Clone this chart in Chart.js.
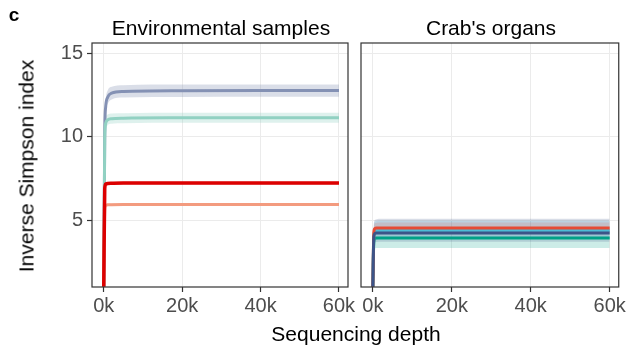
<!DOCTYPE html>
<html>
<head>
<meta charset="utf-8">
<script src="https://cdn.jsdelivr.net/npm/chart.js@4.4.0/dist/chart.umd.min.js"></script>
<style>
  body { margin: 0; background: #fff; }
  #wrap { position: relative; width: 628px; height: 346px; overflow: hidden; font-family: 'Liberation Sans', Arial, sans-serif; }
  canvas { position: absolute; top: 0; }
  .lbl { position: absolute; transform: translate(-50%, -50%); white-space: nowrap; line-height: 1; color: #000; }
</style>
</head>
<body>
<div id="wrap">
  <canvas id="envChart" width="360" height="346" style="left:0;width:360px;height:346px"></canvas>
  <canvas id="orgChart" width="278" height="346" style="left:350px;width:278px;height:346px"></canvas>
  <div class="lbl" style="left:14px;top:14px;font-size:19px;font-weight:bold">c</div>
  <div class="lbl" style="left:221px;top:27px;font-size:21px">Environmental samples</div>
  <div class="lbl" style="left:491px;top:27px;font-size:21px">Crab's organs</div>
  <div class="lbl" style="left:356px;top:333px;font-size:21px">Sequencing depth</div>
  <div class="lbl" style="left:26px;top:166px;font-size:21px;transform:translate(-50%,-50%) rotate(-90deg)">Inverse Simpson index</div>
</div>
<script>
// 시퀀싱 깊이 (x축)
const depth = [0, 250, 500, 1000, 2000, 5000, 20000, 40000, 60000];
const xTicks = [0, 20000, 40000, 60000];
const yTicks = [5, 10, 15];

// Environmental samples
const envBlue    = [1, 10.2, 11.8, 12.35, 12.6, 12.7, 12.74, 12.75, 12.75];
const envBlueLo  = [1, 9.7, 11.4, 11.95, 12.22, 12.33, 12.37, 12.38, 12.38];
const envBlueHi  = [1, 10.7, 12.2, 12.75, 12.98, 13.07, 13.11, 13.12, 13.12];
const envTeal    = [1, 9.9, 10.8, 11.0, 11.07, 11.1, 11.12, 11.13, 11.13];
const envTealLo  = [1, 9.5, 10.45, 10.68, 10.76, 10.8, 10.82, 10.83, 10.83];
const envTealHi  = [1, 10.3, 11.15, 11.32, 11.38, 11.4, 11.42, 11.43, 11.43];
const envRed     = [1, 6.9, 7.15, 7.19, 7.2, 7.21, 7.21, 7.21, 7.21];
const envRedLo   = [1, 6.8, 7.07, 7.11, 7.12, 7.13, 7.13, 7.13, 7.13];
const envRedHi   = [1, 7.0, 7.23, 7.27, 7.28, 7.29, 7.29, 7.29, 7.29];
const envSalmon   = [1, 5.7, 5.88, 5.91, 5.92, 5.93, 5.93, 5.93, 5.93];
const envSalmonLo = [1, 5.63, 5.81, 5.84, 5.85, 5.86, 5.86, 5.86, 5.86];
const envSalmonHi = [1, 5.77, 5.95, 5.98, 5.99, 6.0, 6.0, 6.0, 6.0];

// Crab's organs
const orgRed     = [1, 4.25, 4.48, 4.52, 4.53, 4.53, 4.53, 4.53, 4.53];
const orgRedLo   = [1, 3.95, 4.17, 4.2, 4.21, 4.21, 4.21, 4.21, 4.21];
const orgRedHi   = [1, 4.55, 4.8, 4.84, 4.85, 4.85, 4.85, 4.85, 4.85];
const orgCyan    = [1, 4.1, 4.32, 4.36, 4.37, 4.37, 4.37, 4.37, 4.37];
const orgCyanLo  = [1, 3.65, 3.82, 3.85, 3.86, 3.86, 3.86, 3.86, 3.86];
const orgCyanHi  = [1, 4.65, 4.9, 4.94, 4.95, 4.95, 4.95, 4.95, 4.95];
const orgNavy    = [1, 4.0, 4.19, 4.22, 4.23, 4.23, 4.23, 4.23, 4.23];
const orgNavyLo  = [1, 3.45, 3.66, 3.69, 3.7, 3.7, 3.7, 3.7, 3.7];
const orgNavyHi  = [1, 4.75, 5.0, 5.05, 5.07, 5.07, 5.07, 5.07, 5.07];
const orgGreen   = [1, 3.7, 3.89, 3.92, 3.93, 3.93, 3.93, 3.93, 3.93];
const orgGreenLo = [1, 3.15, 3.3, 3.32, 3.33, 3.33, 3.33, 3.33, 3.33];
const orgGreenHi = [1, 4.2, 4.41, 4.44, 4.45, 4.45, 4.45, 4.45, 4.45];

Chart.defaults.font.family = "'Liberation Sans', Arial, sans-serif";
Chart.defaults.animation = false;

function pts(vals) {
	return depth.map((d, i) => ({ x: d, y: vals[i] }));
}

// 리본 (hi -> lo 사이를 채운다)
function band(hi, lo, color) {
	return [
		{ data: pts(hi), borderWidth: 0, pointRadius: 0, backgroundColor: color, fill: '+1', cubicInterpolationMode: 'monotone' },
		{ data: pts(lo), borderWidth: 0, pointRadius: 0, backgroundColor: color, fill: false, cubicInterpolationMode: 'monotone' },
	];
}

function line(vals, color, w) {
	return { data: pts(vals), borderColor: color, borderWidth: w, pointRadius: 0, fill: false, cubicInterpolationMode: 'monotone', borderJoinStyle: 'round' };
}

// 패널 테두리
const frame = {
	id: 'frame',
	afterDraw(chart) {
		const a = chart.chartArea;
		const ctx = chart.ctx;
		ctx.save();
		ctx.strokeStyle = '#333333';
		ctx.lineWidth = 1.2;
		ctx.strokeRect(a.left, a.top, a.right - a.left, a.bottom - a.top);
		ctx.restore();
	},
};

function scales(showY, yWidth) {
	return {
		x: {
			type: 'linear',
			min: -3000,
			max: 62300,
			afterBuildTicks: (s) => { s.ticks = xTicks.map((v) => ({ value: v })); },
			afterFit: (s) => { s.height = 59; },
			grid: { color: '#EBEBEB', lineWidth: 1, tickLength: 5, tickColor: '#333333', tickWidth: 1.2 },
			border: { display: false },
			ticks: { color: '#4D4D4D', font: { size: 20 }, padding: 2, maxRotation: 0, callback: (v) => v / 1000 + 'k' },
		},
		y: {
			min: 0.99,
			max: 15.6,
			afterBuildTicks: (s) => { s.ticks = yTicks.map((v) => ({ value: v })); },
			afterFit: (s) => { s.width = yWidth; },
			grid: { color: '#EBEBEB', lineWidth: 1, tickLength: showY ? 5 : 0, tickColor: '#333333', tickWidth: 1.2 },
			border: { display: false },
			ticks: { display: showY, color: '#4D4D4D', font: { size: 20 }, padding: 4 },
		},
	};
}

const common = {
	responsive: false,
	plugins: { legend: { display: false }, tooltip: { enabled: false } },
};

// Chart.js는 첫 dataset을 맨 위에 그린다 -> 선을 먼저, 리본은 뒤에
new Chart(document.getElementById('envChart'), {
	type: 'line',
	data: {
		datasets: [
			line(envRed, '#DC0000', 3.5),
			line(envSalmon, '#F39B7F', 3),
			line(envTeal, '#91D1C2', 3),
			line(envBlue, '#8491B4', 3),
			...band(envRedHi, envRedLo, 'rgba(220,0,0,0.3)'),
			...band(envSalmonHi, envSalmonLo, 'rgba(243,155,127,0.3)'),
			...band(envTealHi, envTealLo, 'rgba(145,209,194,0.3)'),
			...band(envBlueHi, envBlueLo, 'rgba(132,145,180,0.3)'),
		],
	},
	options: Object.assign({}, common, {
		layout: { padding: { top: 43, right: 12, left: 0, bottom: 0 } },
		scales: scales(true, 92),
	}),
	plugins: [frame],
});

new Chart(document.getElementById('orgChart'), {
	type: 'line',
	data: {
		datasets: [
			line(orgNavy, '#3C5488', 3),
			line(orgRed, '#E64B35', 3),
			line(orgCyan, '#4DBBD5', 3),
			line(orgGreen, '#00A087', 3),
			...band(orgRedHi, orgRedLo, 'rgba(230,75,53,0.15)'),
			...band(orgNavyHi, orgNavyLo, 'rgba(60,84,136,0.2)'),
			...band(orgCyanHi, orgCyanLo, 'rgba(77,187,213,0.2)'),
			...band(orgGreenHi, orgGreenLo, 'rgba(0,160,135,0.2)'),
		],
	},
	options: Object.assign({}, common, {
		layout: { padding: { top: 43, right: 6, left: 11, bottom: 0 } },
		scales: scales(false, 0),
	}),
	plugins: [frame],
});
</script>
</body>
</html>
